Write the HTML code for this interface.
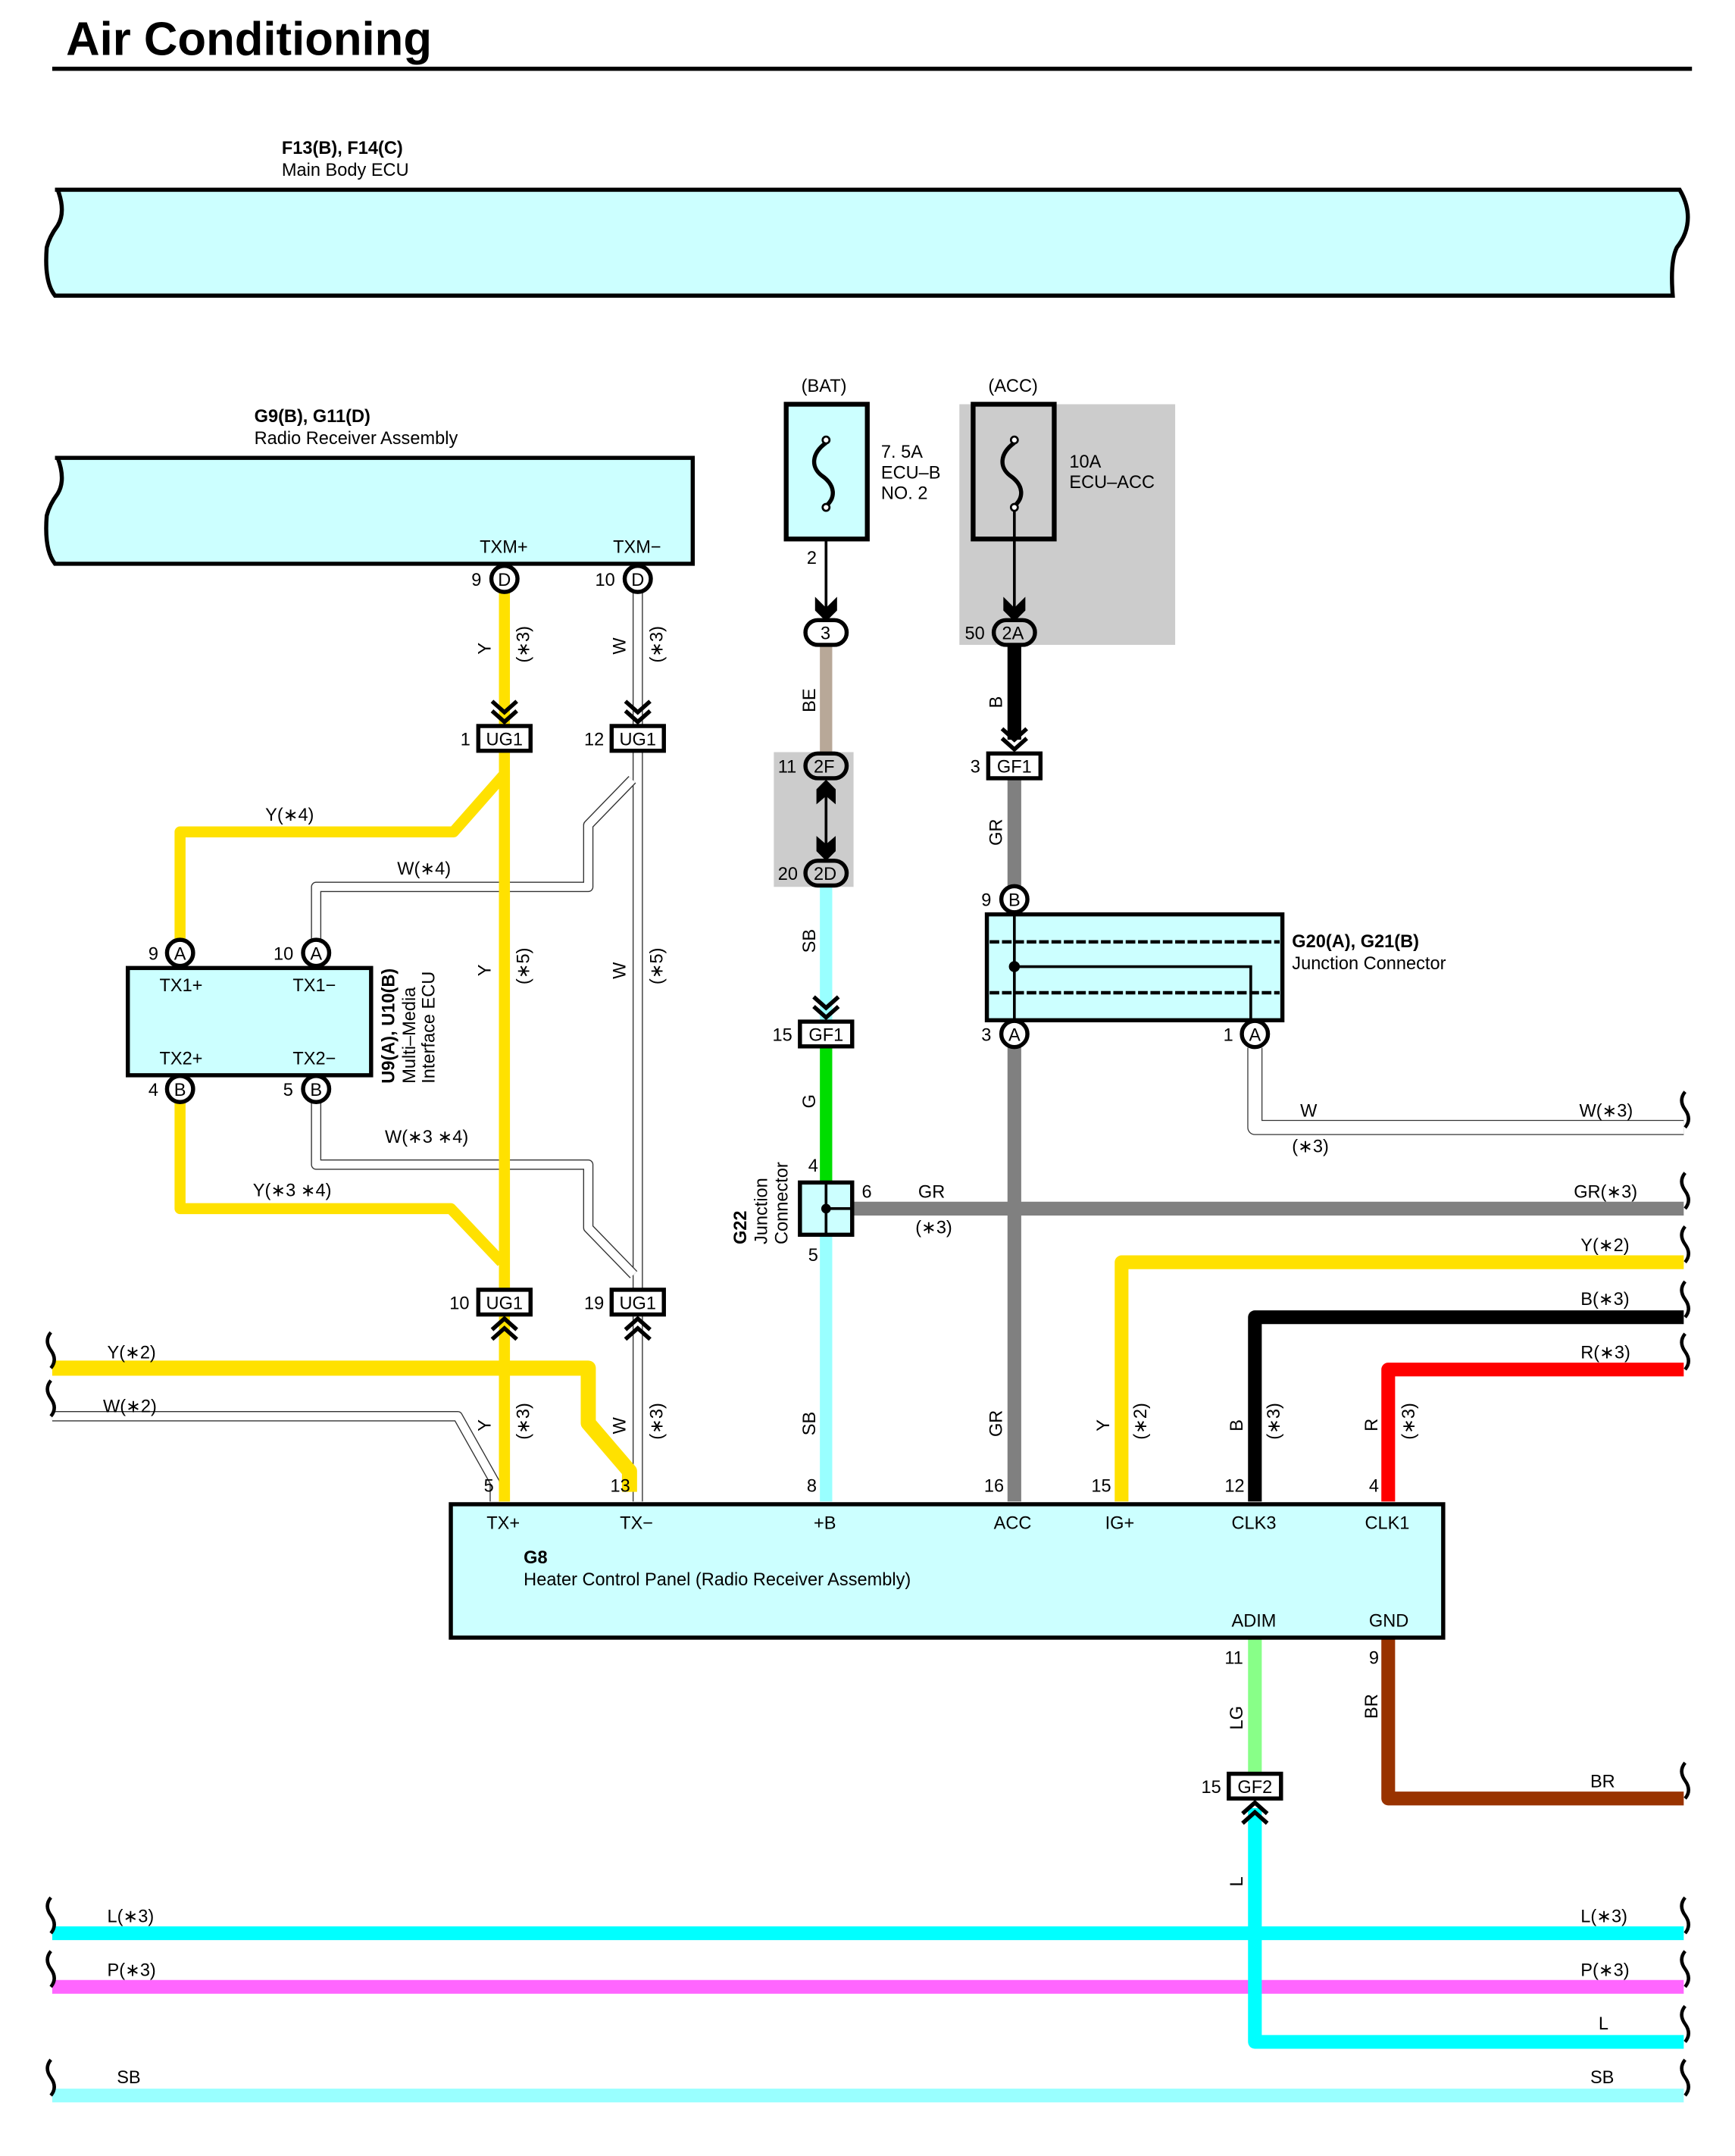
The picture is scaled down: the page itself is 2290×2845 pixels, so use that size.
<!DOCTYPE html>
<html><head><meta charset="utf-8"><style>
html,body{margin:0;padding:0;background:#fff;}
svg{display:block;}
text{font-family:"Liberation Sans",Arial,sans-serif;font-size:13px;fill:#000;}
.b{font-weight:bold;}
</style></head><body>
<svg width="2290" height="2845" viewBox="0 0 1262.3 1568" preserveAspectRatio="none" xmlns="http://www.w3.org/2000/svg">
<defs>
<g id="chevD"><path d="M-9,-14 L0,-6 L9,-14 M-9,-7 L0,1 L9,-7" fill="none" stroke="#000" stroke-width="3"/></g>
<g id="chevU"><path d="M-9,14 L0,6 L9,14 M-9,7 L0,-1 L9,7" fill="none" stroke="#000" stroke-width="3"/></g>
<path id="brk" d="M0,-13 q-5,6 0,13 q5,7 0,13" fill="none" stroke="#000" stroke-width="2.5"/>
</defs>

<!-- Title -->
<text x="48" y="40" class="b" style="font-size:34px">Air Conditioning</text>
<line x1="38" y1="50" x2="1231" y2="50" stroke="#000" stroke-width="3"/>

<!-- Main Body ECU -->
<text x="205" y="112" class="b">F13(B), F14(C)</text>
<text x="205" y="128">Main Body ECU</text>
<path d="M40,138 H1222 q6,10 6,20 q0,12 -8,22 q-5,10 -3,35 H40 q-8,-10 -6,-35 q2,-8 8,-16 q6,-10 0,-26 z" fill="#ccffff" stroke="#000" stroke-width="3"/>

<!-- Radio receiver -->
<text x="185" y="307" class="b">G9(B), G11(D)</text>
<text x="185" y="323">Radio Receiver Assembly</text>
<path d="M40,333 H504 V410 H40 q-8,-10 -6,-35 q2,-8 8,-16 q6,-10 0,-26 z" fill="#ccffff" stroke="#000" stroke-width="3"/>
<text x="349" y="402">TXM+</text>
<text x="446" y="402">TXM−</text>

<!-- Shaded areas -->
<rect x="698" y="294" width="157" height="175" fill="#cccccc"/>
<rect x="563" y="547" width="58" height="98" fill="#cccccc"/>

<!-- ===== wires ===== -->
<g fill="none" stroke-linejoin="round">
<line x1="367" y1="431" x2="367" y2="1092" stroke="#ffe100" stroke-width="8"/>
<path d="M464,431 V1092" stroke="#333" stroke-width="7.5"/>
<path d="M464,431 V1092" stroke="#fff" stroke-width="6"/>
<path d="M367,563 L330,605 H131 V683" stroke="#ffe100" stroke-width="8"/>
<path d="M460,567 L428,600 V645 H230 V683" stroke="#333" stroke-width="7.5"/>
<path d="M460,567 L428,600 V645 H230 V683" stroke="#fff" stroke-width="6"/>
<path d="M131,802 V879 H328 L365,918" stroke="#ffe100" stroke-width="8"/>
<path d="M230,802 V847 H428 V893 L461,927" stroke="#333" stroke-width="7.5"/>
<path d="M230,802 V847 H428 V893 L461,927" stroke="#fff" stroke-width="6"/>
<line x1="367" y1="560" x2="367" y2="940" stroke="#ffe100" stroke-width="8"/>
<path d="M38,1030 H333 L360,1078 V1092" stroke="#333" stroke-width="7.5"/>
<path d="M38,1030 H333 L360,1078 V1092" stroke="#fff" stroke-width="6"/>
<line x1="367" y1="1040" x2="367" y2="1092" stroke="#ffe100" stroke-width="8"/>
<path d="M38,995 H428 V1035 L458,1070 V1085" stroke="#ffe100" stroke-width="11"/>
<line x1="367" y1="965" x2="367" y2="1092" stroke="#ffe100" stroke-width="8"/>

<line x1="601" y1="368" x2="601" y2="445" stroke="#000" stroke-width="2"/>
<line x1="601" y1="469" x2="601" y2="548" stroke="#b8a898" stroke-width="9"/>
<line x1="601" y1="645" x2="601" y2="742" stroke="#99ffff" stroke-width="9"/>
<line x1="601" y1="762" x2="601" y2="860" stroke="#00dd00" stroke-width="9"/>
<line x1="601" y1="898" x2="601" y2="1092" stroke="#99ffff" stroke-width="9"/>
<line x1="601" y1="572" x2="601" y2="620" stroke="#000" stroke-width="2"/>
<path d="M601,567 L608,574 L608,585 L601,579 L594,585 L594,574 z" fill="#000"/>
<path d="M601,626 L608,619 L608,608 L601,614 L594,608 L594,619 z" fill="#000"/>

<line x1="738" y1="368" x2="738" y2="445" stroke="#000" stroke-width="2"/>
<line x1="738" y1="469" x2="738" y2="538" stroke="#000" stroke-width="10"/>
<line x1="738" y1="567" x2="738" y2="1092" stroke="#808080" stroke-width="10"/>
<line x1="620" y1="879" x2="1225" y2="879" stroke="#808080" stroke-width="10"/>
<path d="M913,762 V820 H1225" stroke="#333" stroke-width="11"/>
<path d="M913,762 V820 H1225" stroke="#fff" stroke-width="9.6"/>
<path d="M816,1092 V918 H1225" stroke="#ffe100" stroke-width="10"/>
<path d="M913,1092 V958 H1225" stroke="#000" stroke-width="10"/>
<path d="M1010,1092 V996 H1225" stroke="#ff0000" stroke-width="10"/>
<line x1="913" y1="1191" x2="913" y2="1289" stroke="#88ff88" stroke-width="10"/>
<path d="M1010,1191 V1308 H1225" stroke="#993300" stroke-width="10"/>
<line x1="38" y1="1406" x2="1225" y2="1406" stroke="#00ffff" stroke-width="10"/>
<line x1="38" y1="1445" x2="1225" y2="1445" stroke="#ff66ff" stroke-width="10"/>
<line x1="38" y1="1524" x2="1225" y2="1524" stroke="#99ffff" stroke-width="10"/>
<path d="M913,1315 V1485 H1225" stroke="#00ffff" stroke-width="10"/>
</g>

<!-- wire breaks -->
<use href="#brk" x="37" y="982"/>
<use href="#brk" x="37" y="1017"/>
<use href="#brk" x="37" y="1393"/>
<use href="#brk" x="37" y="1432"/>
<use href="#brk" x="37" y="1511"/>
<use href="#brk" x="1226" y="807"/>
<use href="#brk" x="1226" y="866"/>
<use href="#brk" x="1226" y="905"/>
<use href="#brk" x="1226" y="945"/>
<use href="#brk" x="1226" y="983"/>
<use href="#brk" x="1226" y="1295"/>
<use href="#brk" x="1226" y="1393"/>
<use href="#brk" x="1226" y="1432"/>
<use href="#brk" x="1226" y="1472"/>
<use href="#brk" x="1226" y="1511"/>

<!-- Fuses -->
<text x="583" y="285">(BAT)</text>
<rect x="572" y="294" width="59" height="98" fill="#ccffff" stroke="#000" stroke-width="3.5"/>
<path d="M601,322 C590,330 590,340 598,346 C608,353 608,362 601,368" fill="none" stroke="#000" stroke-width="3"/>
<circle cx="601" cy="320" r="2.5" fill="#fff" stroke="#000" stroke-width="1.5"/>
<circle cx="601" cy="369" r="2.5" fill="#fff" stroke="#000" stroke-width="1.5"/>
<text x="641" y="333">7. 5A</text><text x="641" y="348">ECU–B</text><text x="641" y="363">NO. 2</text>
<text x="587" y="410">2</text>
<path d="M593,434 L601,442 L609,434 L609,444 L601,452 L593,444 z" fill="#000"/>

<text x="719" y="285">(ACC)</text>
<rect x="708" y="294" width="59" height="98" fill="none" stroke="#000" stroke-width="3.5"/>
<path d="M738,322 C727,330 727,340 735,346 C745,353 745,362 738,368" fill="none" stroke="#000" stroke-width="3"/>
<circle cx="738" cy="320" r="2.5" fill="#fff" stroke="#000" stroke-width="1.5"/>
<circle cx="738" cy="369" r="2.5" fill="#fff" stroke="#000" stroke-width="1.5"/>
<text x="778" y="340">10A</text><text x="778" y="355">ECU–ACC</text>
<path d="M730,434 L738,442 L746,434 L746,444 L738,452 L730,444 z" fill="#000"/>

<!-- Ovals -->
<g stroke="#000" stroke-width="3" fill="#fff">
<rect x="586" y="451" width="30" height="18" rx="9"/>
<rect x="723" y="451" width="30" height="18" rx="9" fill="#ccc"/>
<rect x="586" y="548" width="30" height="18" rx="9" fill="#ccc"/>
<rect x="586" y="626" width="30" height="18" rx="9" fill="#ccc"/>
</g>
<text x="597" y="465">3</text>
<text x="729" y="465">2A</text><text x="702" y="465">50</text>
<text x="592" y="562">2F</text><text x="566" y="562">11</text>
<text x="592" y="640">2D</text><text x="566" y="640">20</text>

<!-- Circle connectors -->
<g stroke="#000" stroke-width="3" fill="#fff">
<circle cx="367" cy="421" r="9.5"/><circle cx="464" cy="421" r="9.5"/>
<circle cx="131" cy="693" r="9.5"/><circle cx="230" cy="693" r="9.5"/>
<circle cx="131" cy="792" r="9.5"/><circle cx="230" cy="792" r="9.5"/>
<circle cx="738" cy="654" r="9.5"/><circle cx="738" cy="752" r="9.5"/><circle cx="913" cy="752" r="9.5"/>
</g>
<g text-anchor="middle">
<text x="367" y="426">D</text><text x="464" y="426">D</text>
<text x="131" y="698">A</text><text x="230" y="698">A</text>
<text x="131" y="797">B</text><text x="230" y="797">B</text>
<text x="738" y="659">B</text><text x="738" y="757">A</text><text x="913" y="757">A</text>
</g>
<text x="343" y="426">9</text><text x="433" y="426">10</text>
<text x="108" y="698">9</text><text x="199" y="698">10</text>
<text x="108" y="797">4</text><text x="206" y="797">5</text>
<text x="714" y="659">9</text><text x="714" y="757">3</text><text x="890" y="757">1</text>

<!-- Multi-media ECU -->
<rect x="93" y="704" width="177" height="78" fill="#ccffff" stroke="#000" stroke-width="3"/>
<text x="116" y="721">TX1+</text><text x="213" y="721">TX1−</text>
<text x="116" y="774">TX2+</text><text x="213" y="774">TX2−</text>
<g transform="translate(287,788) rotate(-90)"><text class="b">U9(A), U10(B)</text></g>
<g transform="translate(302,788) rotate(-90)"><text>Multi–Media</text></g>
<g transform="translate(316,788) rotate(-90)"><text>Interface ECU</text></g>

<!-- UG1 connectors -->
<g stroke="#000" stroke-width="3" fill="#fff">
<rect x="348" y="528" width="38" height="18"/><rect x="445" y="528" width="38" height="18"/>
<rect x="348" y="938" width="38" height="18"/><rect x="445" y="938" width="38" height="18"/>
<rect x="582" y="743" width="38" height="18"/><rect x="719" y="548" width="38" height="18"/>
<rect x="894" y="1290" width="38" height="18"/>
</g>
<g text-anchor="middle">
<text x="367" y="542">UG1</text><text x="464" y="542">UG1</text>
<text x="367" y="952">UG1</text><text x="464" y="952">UG1</text>
<text x="601" y="757">GF1</text><text x="738" y="562">GF1</text><text x="913" y="1304">GF2</text>
</g>
<text x="335" y="542">1</text><text x="425" y="542">12</text>
<text x="327" y="952">10</text><text x="425" y="952">19</text>
<text x="562" y="757">15</text><text x="706" y="562">3</text><text x="874" y="1304">15</text>
<use href="#chevD" x="367" y="524"/><use href="#chevD" x="464" y="524"/>
<use href="#chevD" x="601" y="739"/><use href="#chevD" x="738" y="544"/>
<use href="#chevU" x="367" y="960"/><use href="#chevU" x="464" y="960"/>
<use href="#chevU" x="913" y="1312"/>

<!-- G20 junction -->
<rect x="718" y="665" width="215" height="77" fill="#ccffff" stroke="#000" stroke-width="3"/>
<line x1="720" y1="685" x2="931" y2="685" stroke="#000" stroke-width="2.5" stroke-dasharray="7,2"/>
<line x1="720" y1="722" x2="931" y2="722" stroke="#000" stroke-width="2.5" stroke-dasharray="7,2"/>
<line x1="738" y1="664" x2="738" y2="742" stroke="#000" stroke-width="2"/>
<path d="M738,703 H910 V742" fill="none" stroke="#000" stroke-width="2"/>
<circle cx="738" cy="703" r="4" fill="#000"/>
<text x="940" y="689" class="b">G20(A), G21(B)</text>
<text x="940" y="705">Junction Connector</text>

<!-- G22 -->
<rect x="582" y="860" width="38" height="38" fill="#ccffff" stroke="#000" stroke-width="3"/>
<line x1="601" y1="860" x2="601" y2="898" stroke="#000" stroke-width="2"/>
<line x1="601" y1="879" x2="620" y2="879" stroke="#000" stroke-width="2"/>
<circle cx="601" cy="879" r="3.5" fill="#000"/>
<text x="588" y="852">4</text><text x="627" y="871">6</text><text x="588" y="917">5</text>
<g transform="translate(543,905) rotate(-90)"><text class="b">G22</text></g>
<g transform="translate(558,905) rotate(-90)"><text>Junction</text></g>
<g transform="translate(573,905) rotate(-90)"><text>Connector</text></g>

<!-- Heater control panel -->
<rect x="328" y="1094" width="722" height="97" fill="#ccffff" stroke="#000" stroke-width="3"/>
<text x="354" y="1112">TX+</text><text x="451" y="1112">TX−</text><text x="592" y="1112">+B</text>
<text x="723" y="1112">ACC</text><text x="804" y="1112">IG+</text><text x="896" y="1112">CLK3</text><text x="993" y="1112">CLK1</text>
<text x="381" y="1137" class="b">G8</text>
<text x="381" y="1153">Heater Control Panel (Radio Receiver Assembly)</text>
<text x="896" y="1183">ADIM</text><text x="996" y="1183">GND</text>
<text x="352" y="1085">5</text><text x="444" y="1085">13</text><text x="587" y="1085">8</text>
<text x="716" y="1085">16</text><text x="794" y="1085">15</text><text x="891" y="1085">12</text><text x="996" y="1085">4</text>
<text x="891" y="1210">11</text><text x="996" y="1210">9</text>

<!-- wire labels -->
<text x="193" y="597">Y(∗4)</text>
<text x="289" y="636">W(∗4)</text>
<text x="280" y="831">W(∗3 ∗4)</text>
<text x="184" y="870">Y(∗3 ∗4)</text>
<text x="78" y="988">Y(∗2)</text>
<text x="75" y="1027">W(∗2)</text>
<text x="668" y="871">GR</text><text x="666" y="897">(∗3)</text>
<text x="946" y="812">W</text><text x="940" y="838">(∗3)</text>
<text x="1149" y="812">W(∗3)</text>
<text x="1145" y="871">GR(∗3)</text>
<text x="1150" y="910">Y(∗2)</text>
<text x="1150" y="949">B(∗3)</text>
<text x="1150" y="988">R(∗3)</text>
<text x="1157" y="1300">BR</text>
<text x="1163" y="1476">L</text>
<text x="78" y="1398">L(∗3)</text><text x="1150" y="1398">L(∗3)</text>
<text x="78" y="1437">P(∗3)</text><text x="1150" y="1437">P(∗3)</text>
<text x="85" y="1515">SB</text><text x="1157" y="1515">SB</text>

<!-- rotated wire labels -->
<g transform="translate(357,476) rotate(-90)"><text>Y</text></g>
<g transform="translate(385,482) rotate(-90)"><text>(∗3)</text></g>
<g transform="translate(455,476) rotate(-90)"><text>W</text></g>
<g transform="translate(482,482) rotate(-90)"><text>(∗3)</text></g>
<g transform="translate(357,710) rotate(-90)"><text>Y</text></g>
<g transform="translate(385,716) rotate(-90)"><text>(∗5)</text></g>
<g transform="translate(455,712) rotate(-90)"><text>W</text></g>
<g transform="translate(482,716) rotate(-90)"><text>(∗5)</text></g>
<g transform="translate(357,1041) rotate(-90)"><text>Y</text></g>
<g transform="translate(385,1047) rotate(-90)"><text>(∗3)</text></g>
<g transform="translate(455,1043) rotate(-90)"><text>W</text></g>
<g transform="translate(482,1047) rotate(-90)"><text>(∗3)</text></g>
<g transform="translate(593,518) rotate(-90)"><text>BE</text></g>
<g transform="translate(593,693) rotate(-90)"><text>SB</text></g>
<g transform="translate(593,806) rotate(-90)"><text>G</text></g>
<g transform="translate(593,1044) rotate(-90)"><text>SB</text></g>
<g transform="translate(729,515) rotate(-90)"><text>B</text></g>
<g transform="translate(729,615) rotate(-90)"><text>GR</text></g>
<g transform="translate(729,1045) rotate(-90)"><text>GR</text></g>
<g transform="translate(807,1041) rotate(-90)"><text>Y</text></g>
<g transform="translate(834,1047) rotate(-90)"><text>(∗2)</text></g>
<g transform="translate(904,1041) rotate(-90)"><text>B</text></g>
<g transform="translate(931,1047) rotate(-90)"><text>(∗3)</text></g>
<g transform="translate(1002,1041) rotate(-90)"><text>R</text></g>
<g transform="translate(1029,1047) rotate(-90)"><text>(∗3)</text></g>
<g transform="translate(904,1258) rotate(-90)"><text>LG</text></g>
<g transform="translate(1002,1250) rotate(-90)"><text>BR</text></g>
<g transform="translate(904,1372) rotate(-90)"><text>L</text></g>
</svg>
</body></html>
